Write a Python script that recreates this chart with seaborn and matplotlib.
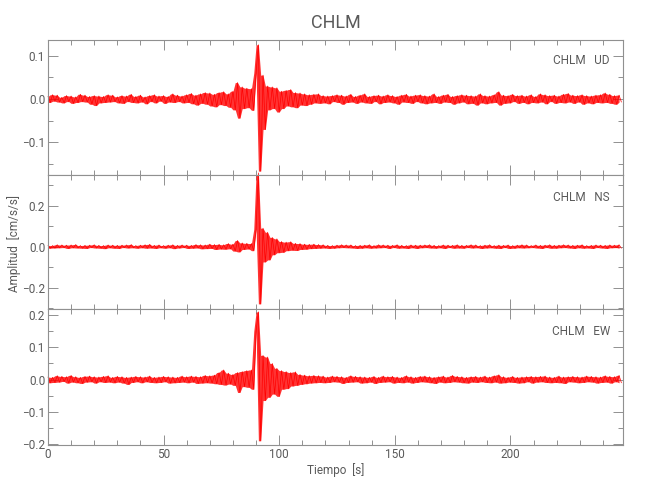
import numpy as np
import pandas as pd
import matplotlib
matplotlib.use("Agg")
import matplotlib.pyplot as plt
from matplotlib.ticker import MultipleLocator, FuncFormatter
import seaborn as sns

# Station / components
station = "CHLM"
components = ["UD", "NS", "EW"]

# Peak amplitudes, one per second (units: 0.001 cm/s/s)
ud = [6, -8, 10, -5, 9, -7, 4, -9, 8, -6,
      7, -10, 5, -8, 11, -6, 9, -7, 6, -12,
      8, -15, 7, -9, 6, -8, 10, -7, 9, -6,
      5, -9, 8, -10, 7, -6, 11, -8, 6, -9,
      9, -7, 5, -11, 8, -6, 10, -9, 7, -5,
      8, -10, 6, -7, 12, -8, 9, -6, 7, -9,
      10, -8, 13, -11, 9, -14, 12, -10, 15, -12,
      14, -16, 11, -18, 15, -13, 17, -15, 12, -19,
      18, -25, 38, -44, 28, -22, 25, -20, 24, -26,
      60, 125, -166, 55, -70, 30, -25, 28, -22, 26,
      -30, 18, -22, 20, -16, 22, -18, 15, -20, 14,
      -14, 12, -15, 10, -12, 11, -9, 12, -10, 8,
      -9, 7, -11, 8, -6, 10, -8, 9, -12, 7,
      -8, 11, -7, 6, -10, 9, -7, 12, -9, 6,
      -10, 8, -6, 9, -11, 7, -8, 10, -7, 8,
      -9, 6, -12, 9, -7, 11, -8, 7, -10, 9,
      -6, 10, -9, 8, -11, 7, -9, 12, -8, 6,
      -10, 9, -7, 11, -8, 6, -12, 8, -9, 10,
      -7, 9, -11, 8, -10, 7, -14, 12, -9, 8,
      -11, 7, -9, 10, -8, 17, -14, 9, -10, 8,
      -9, 11, -6, 8, -10, 9, -8, 7, -11, 10,
      -8, 6, -9, 12, -7, 10, -11, 8, -6, 9,
      -10, 7, -8, 11, -9, 13, -7, 9, -10, 8,
      -7, 10, -12, 8, -9, 7, -11, 9, -8, 10,
      -9, 14, -8, 11, -10, 8, -12, 9, -7]

ns = [6, -8, 5, -7, 9, -6, 8, -5, 7, -9,
      8, -6, 10, -7, 5, -8, 6, -9, 7, -5,
      9, -7, 6, -8, 5, -10, 8, -6, 7, -8,
      6, -9, 7, -5, 8, -7, 10, -6, 5, -8,
      7, -6, 9, -8, 11, -7, 6, -9, 8, -6,
      5, -8, 7, -6, 9, -10, 6, -7, 8, -5,
      7, -9, 6, -8, 10, -7, 9, -11, 8, -10,
      12, -9, 10, -14, 11, -12, 9, -13, 15, -11,
      12, -22, 30, -26, 18, -14, 16, -12, 15, -20,
      85, 360, -280, 90, -75, 70, -65, 45, -40, 38,
      -30, 25, -28, 22, -20, 24, -18, 16, -19, 15,
      -14, 12, -13, 11, -10, 12, -9, 10, -8, 9,
      -7, 6, -9, 5, -8, 7, -6, 9, -5, 8,
      -6, 8, -7, 5, -9, 6, -8, 7, -6, 9,
      -8, 5, -7, 9, -6, 8, -5, 7, -9, 6,
      -5, 9, -8, 6, -7, 5, -9, 8, -6, 7,
      -9, 7, -6, 8, -5, 9, -7, 6, -8, 5,
      -6, 8, -9, 7, -5, 6, -8, 9, -7, 6,
      -8, 6, -5, 9, -7, 8, -6, 5, -9, 7,
      -7, 9, -6, 5, -8, 7, -9, 6, -5, 8,
      -9, 5, -8, 7, -6, 9, -7, 8, -6, 5,
      -5, 8, -7, 6, -9, 7, -5, 9, -8, 6,
      -8, 7, -6, 9, -5, 8, -7, 6, -9, 7,
      -6, 9, -8, 5, -7, 6, -9, 8, -5, 7,
      -7, 6, -9, 8, -6, 7, -5, 9, -8]

ew = [8, -10, 7, -9, 12, -8, 10, -6, 9, -11,
      13, -8, 9, -10, 7, -12, 10, -8, 11, -7,
      9, -11, 8, -7, 10, -9, 12, -8, 7, -10,
      10, -8, 9, -11, 7, -15, 8, -9, 10, -7,
      9, -10, 8, -7, 11, -9, 7, -10, 8, -9,
      10, -7, 9, -11, 8, -10, 7, -9, 11, -8,
      9, -10, 11, -8, 10, -12, 9, -11, 13, -10,
      12, -11, 14, -13, 22, -15, 30, -17, 20, -14,
      16, -18, 22, -40, 25, -22, 28, -24, 30, -30,
      150, 210, -190, 75, -65, 70, -55, 50, -45, 35,
      -52, 28, -30, 25, -28, 22, -20, 24, -18, 16,
      -15, 14, -13, 12, -11, 13, -10, 12, -9, 11,
      -10, 8, -9, 11, -7, 10, -8, 9, -12, 7,
      -9, 12, -8, 10, -7, 9, -11, 8, -10, 7,
      -8, 10, -12, 7, -9, 11, -8, 9, -7, 10,
      -11, 8, -9, 7, -10, 12, -8, 9, -11, 7,
      -9, 10, -7, 11, -8, 9, -10, 7, -12, 9,
      -8, 11, -10, 8, -9, 13, -7, 10, -8, 9,
      -10, 7, -11, 9, -8, 10, -9, 8, -7, 11,
      -9, 8, -10, 12, -8, 15, -11, 9, -10, 7,
      -8, 10, -9, 7, -11, 8, -10, 9, -7, 10,
      -11, 9, -8, 10, -7, 11, -9, 8, -10, 7,
      -9, 11, -10, 8, -12, 9, -7, 10, -8, 9,
      -10, 8, -9, 11, -7, 10, -8, 9, -11, 8,
      -9, 12, -8, 10, -11, 9, -7, 13, -10]

traces = [ud, ns, ew]

# axis limits / ticks per panel
ylims = [(-0.175, 0.136), (-0.305, 0.35), (-0.203, 0.219)]
ymajor = [0.1, 0.2, 0.1]
yminor = [0.05, 0.1, 0.05]
xmax = 248.7

gray = "#909090"
txt = "#5a5a5a"
red = "#ff0000"

sns.set_style("ticks")
plt.rcParams["font.family"] = ["Roboto", "DejaVu Sans"]
plt.rcParams["font.weight"] = "normal"

minus_fmt = FuncFormatter(lambda v, p: f"{v:.1f}".replace("-", "\u2212"))

fig = plt.figure(figsize=(6.5, 5), dpi=100)
left, width = 48 / 650, 575 / 650
tops = [40, 175, 309]
bots = [175, 309, 445]

for i, (comp, vals) in enumerate(zip(components, traces)):
    y0 = 1 - bots[i] / 500
    h = (bots[i] - tops[i]) / 500
    ax = fig.add_axes([left, y0, width, h])
    a = np.array(vals) * 1e-3
    df = pd.DataFrame({"t": np.arange(len(a), dtype=float), "a": a})
    # dense band between neighbouring peaks, then the trace itself
    ax.fill_between(df["t"][:-1], np.maximum(a[:-1], a[1:]),
                    np.minimum(a[:-1], a[1:]), color=red, alpha=0.8,
                    linewidth=0)
    sns.lineplot(data=df, x="t", y="a", ax=ax, color=red,
                 linewidth=0.5, estimator=None, sort=False)
    ax.lines[-1].set_clip_on(False)
    ax.set_xlim(0, xmax)
    ax.set_ylim(*ylims[i])
    ax.set_xlabel("")
    ax.set_ylabel("")
    ax.xaxis.set_major_locator(MultipleLocator(50))
    ax.xaxis.set_minor_locator(MultipleLocator(10))
    ax.yaxis.set_major_locator(MultipleLocator(ymajor[i]))
    ax.yaxis.set_minor_locator(MultipleLocator(yminor[i]))
    ax.yaxis.set_major_formatter(minus_fmt)
    ax.tick_params(which="both", direction="in", top=True, right=True,
                   color=gray, labelcolor=txt, labelsize=8.5, pad=2)
    ax.tick_params(which="major", length=7.2, width=0.7)
    ax.tick_params(which="minor", length=3.6, width=0.7)
    for s in ax.spines.values():
        s.set_visible(True)
        s.set_color(gray)
        s.set_linewidth(0.8)
    if i < 2:
        ax.tick_params(labelbottom=False)
    ax.text(0.977, 0.845 if i == 0 else 0.835, f"{station}   {comp}",
            transform=ax.transAxes, ha="right", va="center",
            color=txt, fontsize=8.5)

fig.text(335.5 / 650, 1 - 23 / 500, station, ha="center", va="center",
         color=txt, fontsize=13)
fig.text(14 / 650, 1 - 243 / 500, "Amplitud  [cm/s/s]", rotation=90,
         ha="center", va="center", color=txt, fontsize=8.5)
fig.text(335.5 / 650, 1 - 470 / 500, "Tiempo  [s]", ha="center",
         va="center", color=txt, fontsize=8.5)

fig.savefig("out.png", dpi=100)
